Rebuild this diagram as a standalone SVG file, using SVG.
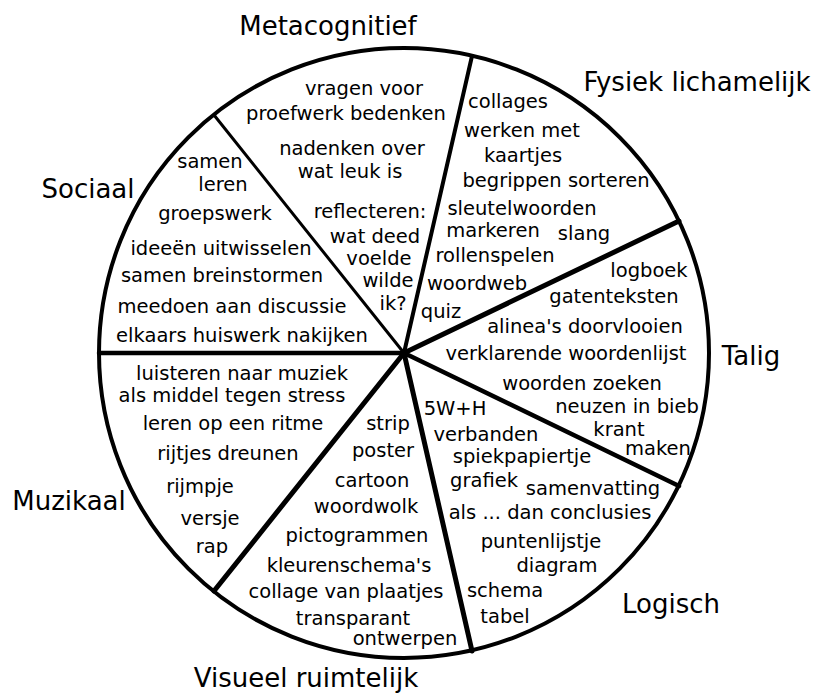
<svg xmlns="http://www.w3.org/2000/svg" width="813" height="693" viewBox="0 0 813 693">
<style>
  text { font-family: "DejaVu Sans", "Liberation Sans", sans-serif; fill: #000; text-anchor: middle; }
  .t { font-size: 19.5px; }
  .lbl { font-size: 26px; }
  .ln { stroke: #000; fill: none; stroke-linecap: round; }
</style>
<rect width="813" height="693" fill="#fff"/>
<g id="connectors">
  <circle class="ln" cx="404" cy="353" r="305" stroke-width="4"/>
  <line class="ln" x1="404" y1="353" x2="99" y2="353" stroke-width="4.5"/>
  <line class="ln" x1="404" y1="353" x2="214" y2="115" stroke-width="3"/>
  <line class="ln" x1="404" y1="353" x2="472" y2="56" stroke-width="4"/>
  <line class="ln" x1="404" y1="353" x2="679" y2="221" stroke-width="5"/>
  <line class="ln" x1="404" y1="353" x2="679" y2="486" stroke-width="4.5"/>
  <line class="ln" x1="404" y1="353" x2="472" y2="651" stroke-width="5"/>
  <line class="ln" x1="404" y1="353" x2="214" y2="591" stroke-width="5"/>
</g>
<g id="metacognitief">
  <text class="lbl" x="328" y="35">Metacognitief</text>
  <text class="t" x="364" y="95">vragen voor</text>
  <text class="t" x="346" y="120">proefwerk bedenken</text>
  <text class="t" x="352" y="155">nadenken over</text>
  <text class="t" x="350" y="178">wat leuk is</text>
  <text class="t" x="370" y="218">reflecteren:</text>
  <text class="t" x="375" y="243">wat deed</text>
  <text class="t" x="379" y="265">voelde</text>
  <text class="t" x="388" y="287">wilde</text>
  <text class="t" x="393" y="310">ik?</text>
</g>
<g id="fysiek-lichamelijk">
  <text class="lbl" x="697" y="91">Fysiek lichamelijk</text>
  <text class="t" x="508" y="108">collages</text>
  <text class="t" x="522" y="137">werken met</text>
  <text class="t" x="523" y="162">kaartjes</text>
  <text class="t" x="556" y="187">begrippen sorteren</text>
  <text class="t" x="522" y="215">sleutelwoorden</text>
  <text class="t" x="493" y="237">markeren</text>
  <text class="t" x="584" y="240">slang</text>
  <text class="t" x="495" y="262">rollenspelen</text>
  <text class="t" x="477" y="290">woordweb</text>
  <text class="t" x="441" y="318">quiz</text>
</g>
<g id="talig">
  <text class="lbl" x="751" y="365">Talig</text>
  <text class="t" x="649" y="277">logboek</text>
  <text class="t" x="614" y="303">gatenteksten</text>
  <text class="t" x="585" y="333">alinea's doorvlooien</text>
  <text class="t" x="566" y="360">verklarende woordenlijst</text>
  <text class="t" x="582" y="390">woorden zoeken</text>
  <text class="t" x="627" y="413">neuzen in bieb</text>
  <text class="t" x="619" y="436">krant</text>
  <text class="t" x="658" y="455">maken</text>
</g>
<g id="logisch">
  <text class="lbl" x="671" y="613">Logisch</text>
  <text class="t" x="455" y="415">5W+H</text>
  <text class="t" x="486" y="441">verbanden</text>
  <text class="t" x="522" y="463">spiekpapiertje</text>
  <text class="t" x="484" y="487">grafiek</text>
  <text class="t" x="593" y="495">samenvatting</text>
  <text class="t" x="550" y="519">als ... dan conclusies</text>
  <text class="t" x="541" y="548">puntenlijstje</text>
  <text class="t" x="557" y="572">diagram</text>
  <text class="t" x="505" y="597">schema</text>
  <text class="t" x="505" y="623">tabel</text>
</g>
<g id="visueel-ruimtelijk">
  <text class="lbl" x="306" y="687">Visueel ruimtelijk</text>
  <text class="t" x="388" y="430">strip</text>
  <text class="t" x="383" y="457">poster</text>
  <text class="t" x="372" y="487">cartoon</text>
  <text class="t" x="366" y="513">woordwolk</text>
  <text class="t" x="357" y="542">pictogrammen</text>
  <text class="t" x="349" y="572">kleurenschema's</text>
  <text class="t" x="346" y="598">collage van plaatjes</text>
  <text class="t" x="353" y="625">transparant</text>
  <text class="t" x="405" y="645">ontwerpen</text>
</g>
<g id="muzikaal">
  <text class="lbl" x="69" y="510">Muzikaal</text>
  <text class="t" x="242" y="380">luisteren naar muziek</text>
  <text class="t" x="232" y="402">als middel tegen stress</text>
  <text class="t" x="233" y="430">leren op een ritme</text>
  <text class="t" x="228" y="460">rijtjes dreunen</text>
  <text class="t" x="200" y="493">rijmpje</text>
  <text class="t" x="210" y="525">versje</text>
  <text class="t" x="212" y="553">rap</text>
</g>
<g id="sociaal">
  <text class="lbl" x="88" y="198">Sociaal</text>
  <text class="t" x="210" y="168">samen</text>
  <text class="t" x="223" y="191">leren</text>
  <text class="t" x="215" y="220">groepswerk</text>
  <text class="t" x="221" y="255">ideeën uitwisselen</text>
  <text class="t" x="222" y="282">samen breinstormen</text>
  <text class="t" x="232" y="313">meedoen aan discussie</text>
  <text class="t" x="242" y="342">elkaars huiswerk nakijken</text>
</g>
</svg>
